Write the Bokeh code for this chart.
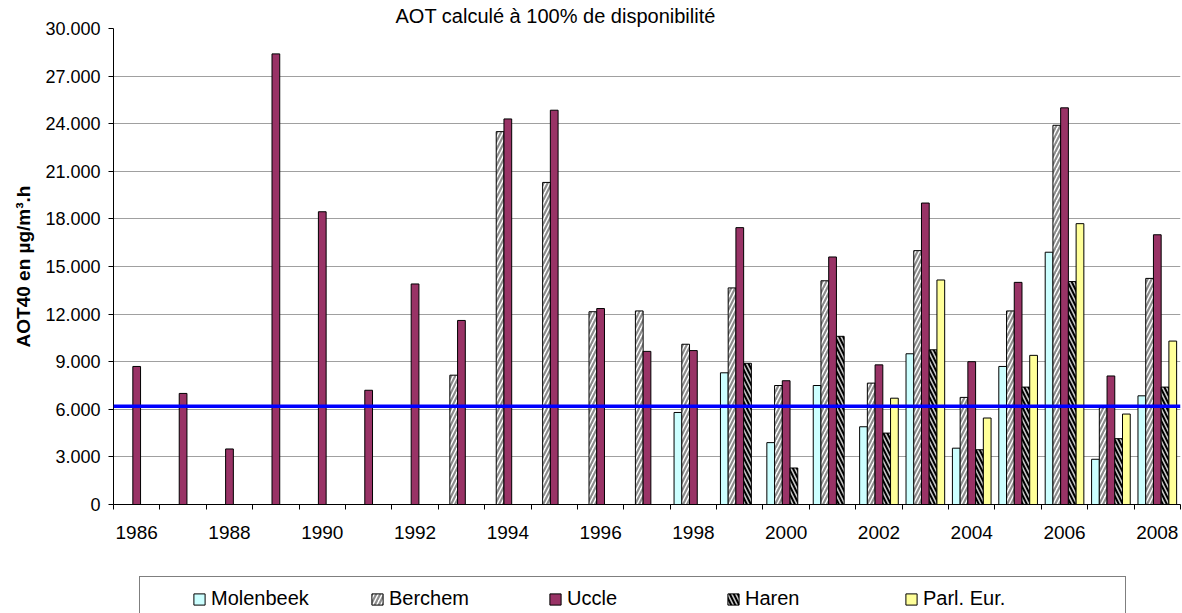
from bokeh.plotting import figure
from bokeh.layouts import column
from bokeh.models import (ColumnDataSource, Range1d, FixedTicker, Span, Legend,
                          LegendItem, Title)
from bokeh.embed import file_html
from bokeh.resources import INLINE

# ---------------- data ----------------
TITLE = "AOT calculé à 100% de disponibilité"
Y_LABEL = "AOT40 en µg/m³.h"
years = list(range(1986, 2009))
molenbeek = [None] * 12 + [5800, 8300, 3900, 7500, 4900, 9500, 3550, 8700, 15900, 2850, 6850]
berchem = [None] * 7 + [8150, 23500, 20300, 12150, 12200, 10100, 13650, 7500, 14100,
                        7650, 16000, 6750, 12200, 23900, 6100, 14250]
uccle = [8700, 7000, 3500, 28400, 18450, 7200, 13900, 11600, 24300, 24850, 12350, 9650,
         9700, 17450, 7800, 15600, 8800, 19000, 9000, 14000, 25000, 8100, 17000]
haren = [None] * 13 + [8900, 2300, 10600, 4500, 9750, 3450, 7400, 14050, 4150, 7400]
parl_eur = [None] * 16 + [6700, 14150, 5450, 9400, 17700, 5700, 10300]
series_names = ["Molenbeek", "Berchem", "Uccle", "Haren", "Parl. Eur."]
threshold = 6200

y_ticks = [0, 3000, 6000, 9000, 12000, 15000, 18000, 21000, 24000, 27000, 30000]
y_tick_labels = ["0", "3.000", "6.000", "9.000", "12.000", "15.000", "18.000",
                 "21.000", "24.000", "27.000", "30.000"]
x_ticks = [1986, 1988, 1990, 1992, 1994, 1996, 1998, 2000, 2002, 2004, 2006, 2008]
x_tick_labels = ["1986", "1988", "1990", "1992", "1994", "1996", "1998", "2000",
                 "2002", "2004", "2006", "2008"]

FONT = "Liberation Sans"
W = 1182
H_MAIN = 574
H_LEG = 39
BORDER_L = 113
BORDER_R = 2
NAN = float("nan")

# ---------------- main figure ----------------
p = figure(width=W, height=H_MAIN, output_backend="svg", toolbar_location=None,
           title=None, x_range=Range1d(1985.5, 2008.5), y_range=Range1d(0, 30000),
           min_border_left=BORDER_L, min_border_right=BORDER_R, min_border_top=27,
           min_border_bottom=70)
p.background_fill_color = "white"
p.border_fill_color = "white"
p.outline_line_color = None

p.add_layout(Title(text=TITLE, align="left", offset=282, standoff=4,
                   vertical_align="bottom", text_font=FONT, text_font_size="20px",
                   text_font_style="normal", text_color="black"), "above")

bar_w = 1 / 6
offsets = [-2 * bar_w, -bar_w, 0, bar_w, 2 * bar_w]
styles = [
    dict(fill_color="#CCFFFF"),
    dict(fill_color="white", hatch_pattern="/", hatch_color="#8c8c8c",
         hatch_scale=8, hatch_weight=2.2),
    dict(fill_color="#993366"),
    dict(fill_color="#C8C8C8", hatch_pattern="\\", hatch_color="black",
         hatch_scale=8, hatch_weight=2.0),
    dict(fill_color="#FFFF99"),
]
all_series = [molenbeek, berchem, uccle, haren, parl_eur]
for vals, off, st in zip(all_series, offsets, styles):
    xs = [y + off for y, v in zip(years, vals) if v is not None]
    tops = [v for v in vals if v is not None]
    src = ColumnDataSource(dict(x=xs, top=tops))
    p.vbar(x="x", top="top", bottom=0, width=bar_w, source=src,
           line_color="black", line_width=1, **st)

p.add_layout(Span(location=threshold, dimension="width", line_color="#0000FF",
                  line_width=3.5))

p.xgrid.visible = False
p.ygrid.grid_line_color = "#a0a0a0"
p.ygrid.grid_line_width = 1
p.ygrid.ticker = FixedTicker(ticks=y_ticks)

yax = p.yaxis[0]
yax.ticker = FixedTicker(ticks=y_ticks)
yax.major_label_overrides = dict(zip(y_ticks, y_tick_labels))
yax.major_tick_out = 5
yax.major_tick_in = 0
yax.minor_tick_line_color = None
yax.axis_line_color = "black"
yax.major_tick_line_color = "black"
yax.major_label_text_font = FONT
yax.major_label_text_font_size = "18px"
yax.major_label_text_color = "black"
yax.major_label_standoff = 8
yax.axis_label = Y_LABEL
yax.axis_label_text_font = FONT
yax.axis_label_text_font_size = "19px"
yax.axis_label_text_font_style = "bold"
yax.axis_label_text_color = "black"
yax.axis_label_standoff = 8

bounds = [y - 0.5 for y in years] + [years[-1] + 0.5]
xax = p.xaxis[0]
xax.ticker = FixedTicker(ticks=x_ticks, minor_ticks=bounds)
xax.major_label_overrides = dict(zip(x_ticks, x_tick_labels))
xax.major_tick_out = 0
xax.major_tick_in = 0
xax.major_tick_line_color = None
xax.minor_tick_out = 5
xax.minor_tick_in = 0
xax.minor_tick_line_color = "black"
xax.axis_line_color = "black"
xax.major_label_text_font = FONT
xax.major_label_text_font_size = "19px"
xax.major_label_text_color = "black"
xax.major_label_standoff = 16

# ---------------- legend strip ----------------
lf = figure(width=W, height=H_LEG, output_backend="svg", toolbar_location=None,
            title=None, x_range=Range1d(0, 1), y_range=Range1d(0, 1),
            x_axis_type=None, y_axis_type=None,
            min_border_left=BORDER_L, min_border_right=BORDER_R, min_border_top=0,
            min_border_bottom=0)
lf.grid.visible = False
lf.outline_line_color = None
lf.background_fill_color = "white"
lf.border_fill_color = "white"

# legend swatch renderers (a single undrawable NaN point: only the swatch shows)
items = []
for name, st in zip(series_names, styles):
    r = lf.vbar(x=[NAN], top=[NAN], bottom=0, width=0.1, line_color="black",
                line_width=1, **st)
    items.append(LegendItem(label=name, renderers=[r]))

# legend frame (box)
box_r = lf.vbar(x=[NAN], top=[NAN], bottom=0, width=0.1, fill_alpha=0, line_alpha=0)
leg_box = Legend(items=[LegendItem(label="", renderers=[box_r])], location=(26, -8),
                 orientation="horizontal", padding=10, margin=0, spacing=0,
                 glyph_width=14, glyph_height=14, label_standoff=5, label_width=946,
                 label_height=23, border_line_color="black", border_line_width=1,
                 background_fill_color="white", background_fill_alpha=1,
                 label_text_font=FONT, label_text_font_size="20px")
lf.add_layout(leg_box)

leg = Legend(items=items, location=(79, 3), orientation="horizontal", padding=0,
             margin=0, spacing=0, glyph_width=14, glyph_height=14, label_standoff=5,
             label_width=159, label_height=23, border_line_color=None,
             background_fill_alpha=0, label_text_font=FONT,
             label_text_font_size="20px", label_text_color="black")
lf.add_layout(leg)

layout = column(p, lf, spacing=0)
open("out.html", "w").write(file_html(layout, INLINE))
